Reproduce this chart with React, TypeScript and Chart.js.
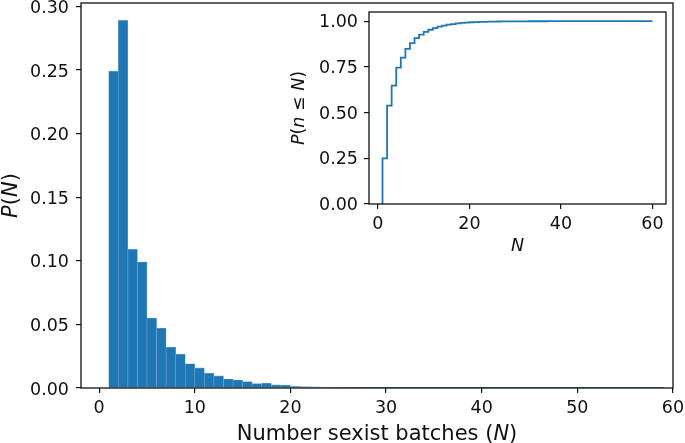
import React, { useEffect, useRef } from 'react';
import { Chart, registerables } from 'chart.js';

Chart.register(...registerables);

// ---- data ----
// histogram bins: left edge N, width 1
const histBinStart = [
  1, 2, 3, 4, 5, 6, 7, 8, 9, 10, 11, 12, 13, 14, 15, 16, 17, 18, 19, 20,
  21, 22, 23, 24, 25, 26, 27, 28, 29, 30, 31, 32, 33, 34, 35, 36, 37, 38, 39, 40,
  41, 42, 43, 44, 45, 46, 47, 48, 49, 50, 51, 52, 53, 54, 55, 56, 57, 58,
];
const histProb = [
  0.249, 0.289, 0.109, 0.099, 0.055, 0.047, 0.032, 0.0266, 0.019, 0.0158,
  0.0116, 0.0095, 0.0071, 0.0063, 0.005, 0.0034, 0.0037, 0.0024, 0.0021, 0.0013,
  0.0011, 0.0009, 0.0007, 0.0005, 0.0004, 0.0003, 0.0003, 0.0002, 0.0002, 0.0001,
  0.0001, 0.0001, 0.00008, 0.00008, 0.00006, 0.00006, 0.00005, 0.00005, 0.00004, 0.00004,
  0.00003, 0.00003, 0.00003, 0.00002, 0.00002, 0.00002, 0.00002, 0.00001, 0.00001, 0.00001,
  0.00001, 0.00001, 0.00001, 0.00001, 0.00001, 0.00001, 0.00001, 0.00001,
];
// inset: cumulative distribution P(n <= N)
const cdfN = [
  1, 2, 3, 4, 5, 6, 7, 8, 9, 10, 11, 12, 13, 14, 15, 16, 17, 18, 19, 20,
  21, 22, 23, 24, 25, 26, 27, 28, 29, 30, 31, 32, 33, 34, 35, 36, 37, 38, 39, 40,
  41, 42, 43, 44, 45, 46, 47, 48, 49, 50, 51, 52, 53, 54, 55, 56, 57, 58, 59, 60,
];
const cdfP = [
  0.249, 0.538, 0.647, 0.746, 0.801, 0.848, 0.88, 0.907, 0.926, 0.941,
  0.953, 0.962, 0.97, 0.976, 0.981, 0.984, 0.988, 0.99, 0.992, 0.994,
  0.995, 0.996, 0.9965, 0.997, 0.9975, 0.998, 0.9983, 0.9986, 0.9988, 0.999,
  0.9991, 0.9992, 0.9993, 0.9994, 0.9995, 0.9995, 0.9996, 0.9996, 0.9997, 0.9997,
  0.9997, 0.9998, 0.9998, 0.9998, 0.9998, 0.9999, 0.9999, 0.9999, 0.9999, 0.9999,
  0.9999, 0.9999, 1.0, 1.0, 1.0, 1.0, 1.0, 1.0, 1.0, 1.0,
];
const mainXTicks = [0, 10, 20, 30, 40, 50, 60];
const mainYTicks = [0, 0.05, 0.1, 0.15, 0.2, 0.25, 0.3];
const insetXTicks = [0, 20, 40, 60];
const insetYTicks = [0, 0.25, 0.5, 0.75, 1.0];

const FONT = '"DejaVu Sans", "Liberation Sans", sans-serif';
const BLUE = '#1f77b4';
const INK = '#111111';

type Seg = { t: string; i?: boolean };

function drawRich(
  ctx: CanvasRenderingContext2D,
  segs: Seg[],
  size: number,
  cx: number,
  baseY: number,
  rotate: boolean
) {
  ctx.save();
  ctx.fillStyle = INK;
  ctx.textBaseline = 'alphabetic';
  ctx.textAlign = 'left';
  const fontOf = (s: Seg) => `${s.i ? 'italic ' : ''}${size}px ${FONT}`;
  let total = 0;
  const widths = segs.map((s) => {
    ctx.font = fontOf(s);
    const w = ctx.measureText(s.t).width;
    total += w;
    return w;
  });
  if (rotate) {
    ctx.translate(baseY, cx);
    ctx.rotate(-Math.PI / 2);
  } else {
    ctx.translate(cx, baseY);
  }
  let x = -total / 2;
  segs.forEach((s, k) => {
    ctx.font = fontOf(s);
    ctx.fillText(s.t, x, 0);
    x += widths[k];
  });
  ctx.restore();
}

const framePlugin = {
  id: 'frameTitles',
  afterDraw(chart: any, _args: any, opts: any) {
    const { ctx, chartArea: a } = chart;
    ctx.save();
    ctx.strokeStyle = INK;
    ctx.lineWidth = opts.frameWidth || 1.3;
    ctx.strokeRect(a.left, a.top, a.right - a.left, a.bottom - a.top);
    ctx.restore();
    if (opts.xTitle) {
      drawRich(ctx, opts.xTitle, opts.titleSize, (a.left + a.right) / 2, opts.xTitleBase, false);
    }
    if (opts.yTitle) {
      drawRich(ctx, opts.yTitle, opts.titleSize, (a.top + a.bottom) / 2 + (opts.yTitleShift || 0), opts.yTitleBase, true);
    }
  },
};

function axisCommon(size: number, padding: number, labelOffset: number, fmt: (v: any) => string) {
  return {
    grid: {
      display: true,
      drawOnChartArea: false,
      drawTicks: true,
      offset: false,
      tickLength: 5,
      color: INK,
      lineWidth: 1.2,
    },
    border: { display: false },
    ticks: {
      color: INK,
      font: { family: FONT, size },
      padding,
      labelOffset,
      autoSkip: false,
      maxRotation: 0,
      minRotation: 0,
      includeBounds: false,
      callback: fmt,
    },
  };
}

const fmtInt = (v: any) => String(v);
const fmt2 = (v: any) => Number(v).toFixed(2);

export default function App() {
  const mainRef = useRef<HTMLCanvasElement>(null);
  const insetRef = useRef<HTMLCanvasElement>(null);

  useEffect(() => {
    document.body.style.margin = '0';
    const mainCtx = mainRef.current!.getContext('2d')!;
    const insetCtx = insetRef.current!.getContext('2d')!;

    const main = new Chart(mainCtx, {
      type: 'bar',
      data: {
        datasets: [
          {
            data: histBinStart.map((s, i) => ({ x: s + 0.5, y: histProb[i] })),
            backgroundColor: BLUE,
            borderColor: '#6ea5d3',
            borderWidth: 0.6,
            borderSkipped: false,
            barPercentage: 1,
            categoryPercentage: 1,
          },
        ],
      },
      options: {
        animation: false,
        responsive: false,
        events: [],
        layout: { padding: { left: 0, top: 3, right: 12, bottom: 0 }, autoPadding: false },
        plugins: {
          legend: { display: false },
          tooltip: { enabled: false },
          frameTitles: {
            xTitle: [{ t: 'Number sexist batches (' }, { t: 'N', i: true }, { t: ')' }],
            yTitle: [{ t: 'P', i: true }, { t: '(' }, { t: 'N', i: true }, { t: ')' }],
            titleSize: 21,
            xTitleBase: 440,
            yTitleBase: 17,
          },
        } as any,
        scales: {
          x: {
            type: 'linear',
            min: -1.9,
            max: 60,
            offset: false,
            ...axisCommon(17.5, 5, 0, fmtInt),
            afterBuildTicks: (s: any) => {
              s.ticks = mainXTicks.map((v) => ({ value: v }));
            },
            afterFit: (s: any) => {
              s.height = 55;
              s.paddingLeft = 0;
              s.paddingRight = 0;
            },
          } as any,
          y: {
            type: 'linear',
            min: 0,
            max: 0.3027,
            ...axisCommon(17.5, 7, 2, fmt2),
            afterBuildTicks: (s: any) => {
              s.ticks = mainYTicks.map((v) => ({ value: v }));
            },
            afterFit: (s: any) => {
              s.width = 81;
              s.paddingTop = 0;
              s.paddingBottom = 0;
            },
          } as any,
        },
      },
      plugins: [framePlugin],
    } as any);

    const inset = new Chart(insetCtx, {
      type: 'line',
      data: {
        datasets: [
          {
            data: [{ x: cdfN[0], y: 0 }, ...cdfN.map((n, i) => ({ x: n, y: cdfP[i] }))],
            borderColor: BLUE,
            borderWidth: 1.8,
            pointRadius: 0,
            stepped: 'before',
            fill: false,
          },
        ],
      },
      options: {
        animation: false,
        responsive: false,
        events: [],
        layout: { padding: { left: 0, top: 12, right: 19, bottom: 0 }, autoPadding: false },
        plugins: {
          legend: { display: false },
          tooltip: { enabled: false },
          frameTitles: {
            xTitle: [{ t: 'N', i: true }],
            yTitle: [
              { t: 'P', i: true },
              { t: '(' },
              { t: 'n', i: true },
              { t: ' \u2264 ' },
              { t: 'N', i: true },
              { t: ')' },
            ],
            titleSize: 17.5,
            xTitleBase: 251,
            yTitleBase: 24,
            frameWidth: 1.3,
          },
        } as any,
        scales: {
          x: {
            type: 'linear',
            min: -1.95,
            max: 62.95,
            ...axisCommon(17.5, 5, 0, fmtInt),
            afterBuildTicks: (s: any) => {
              s.ticks = insetXTicks.map((v) => ({ value: v }));
            },
            afterFit: (s: any) => {
              s.height = 66;
              s.paddingLeft = 0;
              s.paddingRight = 0;
            },
          } as any,
          y: {
            type: 'linear',
            min: 0,
            max: 1.05,
            ...axisCommon(17.5, 6, 1.5, fmt2),
            afterBuildTicks: (s: any) => {
              s.ticks = insetYTicks.map((v) => ({ value: v }));
            },
            afterFit: (s: any) => {
              s.width = 89;
              s.paddingTop = 0;
              s.paddingBottom = 0;
            },
          } as any,
        },
      },
      plugins: [framePlugin],
    } as any);

    return () => {
      main.destroy();
      inset.destroy();
    };
  }, []);

  return (
    <div style={{ position: 'fixed', left: 0, top: 0, width: 685, height: 443, background: '#fff' }}>
      <canvas
        ref={mainRef}
        width={685}
        height={443}
        style={{ position: 'absolute', left: 0, top: 0, width: 685, height: 443 }}
      />
      <canvas
        ref={insetRef}
        width={405}
        height={270}
        style={{ position: 'absolute', left: 280, top: 0, width: 405, height: 270 }}
      />
    </div>
  );
}
